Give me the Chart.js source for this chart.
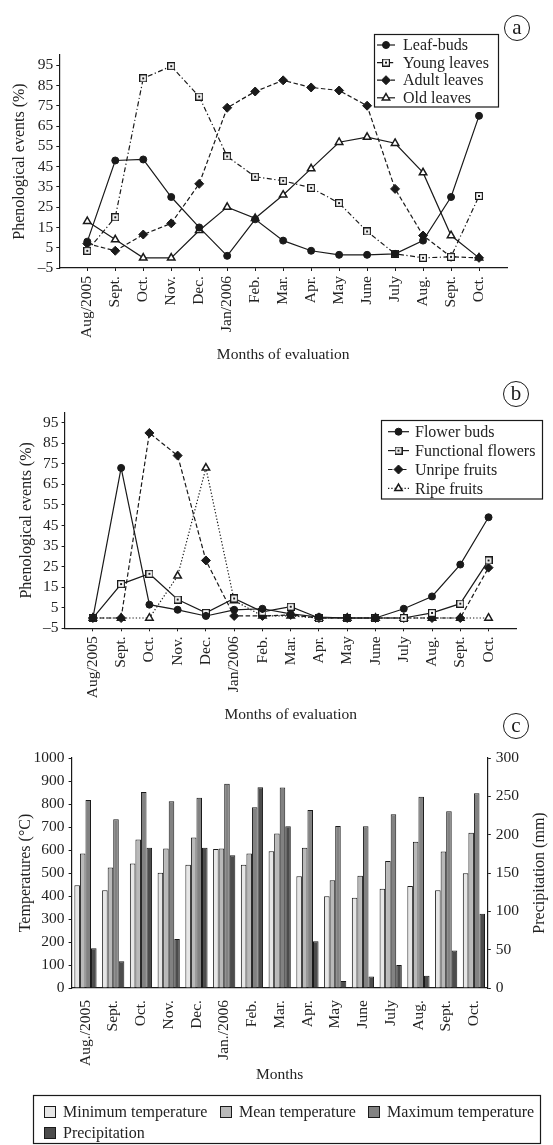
<!DOCTYPE html>
<html>
<head>
<meta charset="utf-8">
<script src="https://cdn.jsdelivr.net/npm/chart.js@4.4.0/dist/chart.umd.min.js"></script>
<style>
  body { margin: 0; background: #fff; }
  #wrap { position: relative; width: 553px; height: 1145px; overflow: hidden; font-family: 'Liberation Serif', serif; }
  canvas { position: absolute; left: 0; }
  .tag { position: absolute; box-sizing: border-box; width: 26px; height: 26px; border: 1.3px solid #1a1a1a;
         border-radius: 50%; text-align: center; line-height: 22px; font-size: 21px; color: #1a1a1a; }
</style>
</head>
<body>
<div id="wrap">
  <canvas id="chartA" width="553" height="375" style="top:0"></canvas>
  <canvas id="chartB" width="553" height="370" style="top:375px"></canvas>
  <canvas id="chartC" width="553" height="425" style="top:720px"></canvas>
  <div class="tag" style="left:504px;top:15px">a</div>
  <div class="tag" style="left:503px;top:381px">b</div>
  <div class="tag" style="left:503px;top:713px">c</div>
</div>
<script>
// month labels
const months = ['Aug/2005', 'Sept.', 'Oct.', 'Nov.', 'Dec.', 'Jan/2006', 'Feb.', 'Mar.', 'Apr.', 'May', 'June', 'July', 'Aug.', 'Sept.', 'Oct.'];
const monthsC = ['Aug./2005', 'Sept.', 'Oct.', 'Nov.', 'Dec.', 'Jan./2006', 'Feb.', 'Mar.', 'Apr.', 'May', 'June', 'July', 'Aug.', 'Sept.', 'Oct.'];
const phenoTicks = [-5, 5, 15, 25, 35, 45, 55, 65, 75, 85, 95];

// (a) leaves, %
const leafBuds    = [8, 48, 48.5, 30, 15, 1, 19, 8.5, 3.5, 1.5, 1.5, 2, 8.5, 30, 70];
const youngLeaves = [3.5, 20, 88.5, 94.5, 79.5, 50, 40, 38, 34.5, 27, 13, 2, 0, 0.5, 30.5];
const adultLeaves = [7, 3.5, 11.5, 17, 36.5, 74, 82, 87.5, 84, 82.5, 75, 34, 11, 0.5, 0];
const oldLeaves   = [18, 9, 0, 0, 13.5, 25, 19.5, 31, 44, 57, 59.5, 56.5, 42, 11, 0];

// (b) flowers and fruits, %
const flowerBuds        = [0, 73, 6.5, 4, 1, 4, 4.5, 2, 0.5, 0, 0, 4.5, 10.5, 26, 49];
const functionalFlowers = [0, 16.5, 21.5, 9, 2.5, 9.5, 3, 5.5, 0, 0, 0, 0, 2.5, 7, 28];
const unripeFruits      = [0, 0, 90, 79, 28, 1, 1, 1.5, 0, 0, 0, 0, 0, 0, 24.5];
const ripeFruits        = [0, 0, 0, 20.5, 73, 8.5, 1, 1, 0, 0, 0, 0, 0, 0, 0];

// (c) climate
const minTemp  = [447, 425, 541, 501, 536, 604, 536, 595, 486, 399, 392, 431, 444, 425, 499];
const meanTemp = [585, 524, 646, 607, 654, 607, 585, 672, 610, 469, 488, 552, 636, 593, 675];
const maxTemp  = [817, 734, 852, 812, 827, 888, 786, 872, 774, 704, 703, 755, 831, 768, 847];
const precipitation = [52, 35, 183, 64, 183, 173, 262, 211, 61, 9, 15, 30, 16, 49, 97];

const FONT = "'Liberation Serif', 'Times New Roman', serif";
const INK = '#1a1a1a';
const TXT = '#222';

// open square with a dot in the middle
function dotSquare() {
  const c = document.createElement('canvas');
  c.width = 8; c.height = 8;
  const g = c.getContext('2d');
  g.fillStyle = '#fff';
  g.fillRect(0, 0, 8, 8);
  g.strokeStyle = INK;
  g.lineWidth = 1.2;
  g.strokeRect(0.6, 0.6, 6.8, 6.8);
  g.fillStyle = INK;
  g.fillRect(3, 3, 2, 2);
  return c;
}
const sq = dotSquare();

function series(label, values, dash, style, radius, fill) {
  return {
    label: label,
    data: values.map((v, i) => ({ x: i, y: v })),
    borderColor: INK,
    borderWidth: 1.2,
    borderDash: dash,
    tension: 0,
    fill: false,
    pointStyle: style,
    pointRadius: radius,
    pointBackgroundColor: fill,
    pointBorderColor: INK,
    pointBorderWidth: style === 'triangle' ? 1.5 : 1
  };
}

function drawMark(ctx, ds, x, y) {
  ctx.fillStyle = ds.pointBackgroundColor;
  ctx.strokeStyle = ds.pointBorderColor;
  ctx.lineWidth = ds.pointBorderWidth;
  ctx.setLineDash([]);
  Chart.helpers.drawPoint(ctx, { pointStyle: ds.pointStyle, radius: ds.pointRadius, rotation: 0, borderWidth: ds.pointBorderWidth }, x, y);
}

// legend boxes and extra titles drawn on the canvas
const boxLegend = {
  id: 'boxLegend',
  afterDraw(chart, args, o) {
    if (!o || !o.box) return;
    const ctx = chart.ctx;
    const b = o.box;
    ctx.save();
    ctx.fillStyle = '#fff';
    ctx.fillRect(b[0], b[1], b[2], b[3]);
    ctx.strokeStyle = INK;
    ctx.lineWidth = 1.2;
    ctx.strokeRect(b[0], b[1], b[2], b[3]);
    ctx.font = '16px ' + FONT;
    ctx.textBaseline = 'middle';
    if (o.kind === 'line') {
      chart.data.datasets.forEach((ds, i) => {
        const y = o.y0 + i * o.step;
        ctx.strokeStyle = INK;
        ctx.lineWidth = 1.2;
        ctx.setLineDash(ds.borderDash || []);
        ctx.beginPath();
        ctx.moveTo(o.x1, y);
        ctx.lineTo(o.x2, y);
        ctx.stroke();
        drawMark(ctx, ds, (o.x1 + o.x2) / 2, y);
        ctx.fillStyle = TXT;
        ctx.fillText(ds.label, o.tx, y + 1);
      });
    } else {
      o.items.forEach(it => {
        const ds = chart.data.datasets[it.i];
        ctx.fillStyle = ds.backgroundColor;
        ctx.fillRect(it.x, it.y - 6, 12, 12);
        ctx.strokeStyle = INK;
        ctx.lineWidth = 1;
        ctx.strokeRect(it.x + 0.5, it.y - 5.5, 11, 11);
        ctx.fillStyle = TXT;
        ctx.fillText(ds.label, it.x + 19, it.y + 1);
      });
    }
    if (o.rightTitle) {
      const ca = chart.chartArea;
      ctx.translate(o.rightTitle.x, (ca.top + ca.bottom) / 2);
      ctx.rotate(-Math.PI / 2);
      ctx.textAlign = 'center';
      ctx.fillStyle = TXT;
      ctx.fillText(o.rightTitle.text, 0, 0);
    }
    ctx.restore();
  }
};
Chart.register(boxLegend);

const tickFont = { family: FONT, size: 15.5 };
const titleFont = { family: FONT, size: 15.5 };

function phenoOptions(p) {
  return {
    responsive: false,
    animation: false,
    layout: { padding: { left: 0, top: p.top, right: p.right, bottom: 0 } },
    plugins: { legend: { display: false }, tooltip: { enabled: false }, boxLegend: p.legend },
    scales: {
      x: {
        type: 'linear', min: -1, max: 15,
        afterBuildTicks: s => { s.ticks = months.map((m, i) => ({ value: i })); },
        afterFit: s => { s.height = p.xHeight; },
        ticks: { callback: v => months[v], autoSkip: false, minRotation: 90, maxRotation: 90, padding: 5, color: TXT, font: tickFont },
        grid: { display: true, drawOnChartArea: false, tickLength: 3, color: INK },
        border: { color: INK, width: 1.2 },
        title: { display: true, text: 'Months of evaluation', color: TXT, font: titleFont, padding: { top: 0, bottom: p.xTitlePad } }
      },
      y: {
        min: -5, max: 100,
        afterBuildTicks: s => { s.ticks = phenoTicks.map(v => ({ value: v })); },
        afterFit: s => { s.width = p.yWidth; },
        ticks: { autoSkip: false, callback: v => v < 0 ? '\u2013' + Math.abs(v) : String(v), padding: 3, color: TXT, font: tickFont },
        grid: { display: true, drawOnChartArea: false, tickLength: 3, color: INK },
        border: { color: INK, width: 1.2 },
        title: { display: true, text: 'Phenological events (%)', color: TXT, font: { family: FONT, size: 16 }, padding: { top: p.yTitlePad, bottom: 0 } }
      }
    }
  };
}

new Chart(document.getElementById('chartA'), {
  type: 'line',
  data: {
    datasets: [
      series('Leaf-buds', leafBuds, [], 'circle', 3.5, INK),
      series('Young leaves', youngLeaves, [5, 2.5, 1.2, 2.5], sq, 4, '#fff'),
      series('Adult leaves', adultLeaves, [4.5, 2.5], 'rectRot', 4.5, INK),
      series('Old leaves', oldLeaves, [], 'triangle', 4.3, '#fff')
    ]
  },
  options: phenoOptions({
    top: 55, right: 46, xHeight: 107, xTitlePad: 10.7, yWidth: 59.3, yTitlePad: 10.4,
    legend: { kind: 'line', box: [374.5, 34.5, 124, 72.5], y0: 45, step: 17.6, x1: 377, x2: 395, tx: 403 }
  })
});

new Chart(document.getElementById('chartB'), {
  type: 'line',
  data: {
    datasets: [
      series('Flower buds', flowerBuds, [], 'circle', 3.5, INK),
      series('Functional flowers', functionalFlowers, [], sq, 4, '#fff'),
      series('Unripe fruits', unripeFruits, [4.5, 2.5], 'rectRot', 4.5, INK),
      series('Ripe fruits', ripeFruits, [1.3, 2], 'triangle', 4.3, '#fff')
    ]
  },
  options: phenoOptions({
    top: 37.4, right: 36.2, xHeight: 116.7, xTitlePad: 20.7, yWidth: 64.6, yTitlePad: 17.4,
    legend: { kind: 'line', box: [381.5, 45.5, 161, 78.5], y0: 56.7, step: 18.9, x1: 388, x2: 409, tx: 415 }
  })
});

new Chart(document.getElementById('chartC'), {
  type: 'bar',
  data: {
    labels: monthsC,
    datasets: [
      { label: 'Minimum temperature', data: minTemp, backgroundColor: '#e6e6e6', yAxisID: 'y' },
      { label: 'Mean temperature', data: meanTemp, backgroundColor: '#b9b9b9', yAxisID: 'y' },
      { label: 'Maximum temperature', data: maxTemp, backgroundColor: '#828282', yAxisID: 'y' },
      { label: 'Precipitation', data: precipitation, backgroundColor: '#4c4c4c', yAxisID: 'y1' }
    ]
  },
  options: {
    responsive: false,
    animation: false,
    layout: { padding: { left: 0, top: 38, right: 0, bottom: 0 } },
    datasets: { bar: { categoryPercentage: 0.8, barPercentage: 1, borderColor: INK, borderWidth: 1 } },
    plugins: {
      legend: { display: false },
      tooltip: { enabled: false },
      boxLegend: {
        kind: 'box', box: [33.5, 375.5, 507, 48],
        items: [{ i: 0, x: 44, y: 392 }, { i: 1, x: 220, y: 392 }, { i: 2, x: 368, y: 392 }, { i: 3, x: 44, y: 413 }],
        rightTitle: { x: 540, text: 'Precipitation (mm)' }
      }
    },
    scales: {
      x: {
        afterFit: s => { s.height = 157; },
        ticks: { autoSkip: false, minRotation: 90, maxRotation: 90, padding: 4, color: TXT, font: tickFont },
        grid: { display: false },
        border: { color: INK, width: 1.2 },
        title: { display: true, text: 'Months', color: TXT, font: titleFont, padding: { top: 0, bottom: 60.7 } }
      },
      y: {
        position: 'left', min: 0, max: 1000,
        afterFit: s => { s.width = 71.6; },
        ticks: { autoSkip: false, stepSize: 100, callback: v => String(v), padding: 4, color: TXT, font: tickFont },
        grid: { display: true, drawOnChartArea: false, tickLength: 3, color: INK },
        border: { color: INK, width: 1.2 },
        title: { display: true, text: 'Temperatures (\u00b0C)', color: TXT, font: { family: FONT, size: 16 }, padding: { top: 16.4, bottom: 0 } }
      },
      y1: {
        position: 'right', min: 0, max: 300,
        afterFit: s => { s.width = 65.2; },
        ticks: { autoSkip: false, stepSize: 50, callback: v => String(v), padding: 5, color: TXT, font: tickFont },
        grid: { display: true, drawOnChartArea: false, tickLength: 3, color: INK },
        border: { color: INK, width: 1.2 }
      }
    }
  }
});
</script>
</body>
</html>
